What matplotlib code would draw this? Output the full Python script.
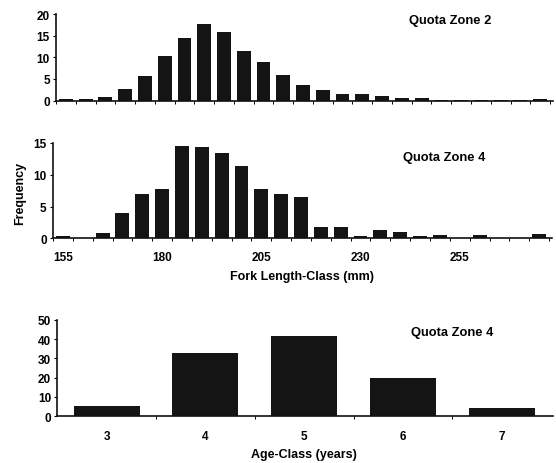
import matplotlib
matplotlib.use("Agg")
import matplotlib.pyplot as plt
import numpy as np

plt.rcParams['font.family'] = ['Liberation Sans', 'DejaVu Sans']
plt.rcParams['font.weight'] = 'bold'

# Fork length classes (mm), 5 mm bins
length_classes = [155, 160, 165, 170, 175, 180, 185, 190, 195, 200, 205, 210, 215,
                  220, 225, 230, 235, 240, 245, 250, 255, 260, 265, 270, 275]
zone2_freq = [0.4, 0.4, 0.85, 2.6, 5.6, 10.2, 14.4, 17.6, 15.9, 11.5, 9.0, 5.9, 3.6,
              2.5, 1.4, 1.4, 1.0, 0.6, 0.5, 0.15, 0.15, 0.15, 0.15, 0.15, 0.4]
zone4_freq = [0.4, 0.0, 0.9, 4.0, 6.9, 7.7, 14.6, 14.3, 13.4, 11.4, 7.8, 6.9, 6.5,
              1.7, 1.7, 0.4, 1.3, 1.0, 0.4, 0.5, 0.0, 0.5, 0.0, 0.0, 0.6]
length_ticklabels = ['155', '180', '205', '230', '255']

age_classes = [3, 4, 5, 6, 7]
age_freq = [5.2, 32.6, 41.7, 19.7, 4.3]

W, H = 556, 464
fig = plt.figure(figsize=(W / 100, H / 100), dpi=100)

def rect(l, r, t, b):
    return [l / W, 1 - b / H, (r - l) / W, (b - t) / H]

ax1 = fig.add_axes(rect(56, 553, 15, 101.5))
ax2 = fig.add_axes(rect(53, 552, 144, 239.3))
ax3 = fig.add_axes(rect(57.3, 553, 320.7, 417.3))

bar_color = '#141414'
fs = 8.5
tfs = 9.3
idx = np.arange(len(length_classes))

for ax, freq, ymax, yticks in [(ax1, zone2_freq, 20, [0, 5, 10, 15, 20]),
                                (ax2, zone4_freq, 15, [0, 5, 10, 15])]:
    ax.bar(idx, freq, width=0.7, color=bar_color)
    ax.set_xlim(-0.5, 24.65)
    ax.set_ylim(0, ymax)
    ax.set_yticks(yticks)
    ax.set_xticks(idx[::5])
    ax.set_xticks(np.arange(-0.5, 24.6, 1), minor=True)
    ax.tick_params(axis='x', which='major', length=0, pad=9, labelsize=fs)
    ax.tick_params(axis='x', which='minor', length=2, width=0.7, direction='out')
    ax.tick_params(axis='y', length=2.5, width=0.8, pad=2, labelsize=fs)

ax1.set_xticklabels([])
ax2.set_xticklabels(length_ticklabels, fontweight='bold')

ax3.bar(age_classes, age_freq, width=0.67, color=bar_color)
ax3.set_xlim(2.5, 7.52)
ax3.set_ylim(0, 50)
ax3.set_yticks([0, 10, 20, 30, 40, 50])
ax3.set_xticks(age_classes)
ax3.set_xticklabels([str(a) for a in age_classes], fontweight='bold')
ax3.set_xticks([3.5, 4.5, 5.5, 6.5], minor=True)
ax3.tick_params(axis='x', which='major', length=0, pad=10, labelsize=fs)
ax3.tick_params(axis='x', which='minor', length=2, width=0.7, direction='out')
ax3.tick_params(axis='y', length=2.5, width=0.8, pad=2, labelsize=fs)

for ax in (ax1, ax2, ax3):
    for s in ('top', 'right'):
        ax.spines[s].set_visible(False)
    for s in ('left', 'bottom'):
        ax.spines[s].set_linewidth(1.2)
        ax.spines[s].set_color('#111111')
    for lab in ax.get_yticklabels():
        lab.set_fontweight('bold')

fig.text(450 / W, 1 - 21 / H, 'Quota Zone 2', ha='center', va='center', fontsize=tfs, fontweight='bold')
fig.text(444 / W, 1 - 158 / H, 'Quota Zone 4', ha='center', va='center', fontsize=tfs, fontweight='bold')
fig.text(452 / W, 1 - 333 / H, 'Quota Zone 4', ha='center', va='center', fontsize=tfs, fontweight='bold')
fig.text(302 / W, 1 - 277 / H, 'Fork Length-Class (mm)', ha='center', va='center', fontsize=9, fontweight='bold')
fig.text(304 / W, 1 - 455 / H, 'Age-Class (years)', ha='center', va='center', fontsize=9, fontweight='bold')
fig.text(20 / W, 1 - 193 / H, 'Frequency', ha='center', va='center', rotation=90, fontsize=9, fontweight='bold')

fig.savefig('out.png', dpi=100, facecolor='white')
